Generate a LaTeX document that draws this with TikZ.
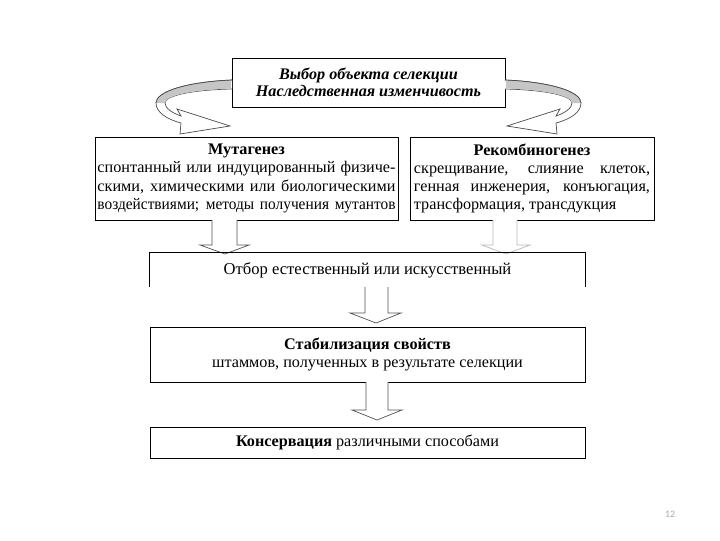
\documentclass[tikz,border=0pt]{standalone}
\usepackage{fontspec}
\setmainfont{Liberation Serif}
\newfontfamily\pagefont{Carlito}
\usepackage{xcolor}
\usetikzlibrary{arrows.meta}

\tikzset{
  box/.style={draw=black, line width=0.6pt, fill=white, inner sep=0pt},
  boxtext/.style={font=\fontsize{11.5}{13}\selectfont},
  hollow/.style={draw=gray!65!black, line width=0.5pt, fill=white, line join=miter},
  ribbon/.style={draw=gray!60!black, line width=0.5pt, fill=white},
}

\begin{document}
\begin{tikzpicture}[x=0.025cm, y=-0.025cm]
  \useasboundingbox (0,0) rectangle (720,540);
  % ============= top box and curved arrows =============
  \node[box, minimum width=6.825cm, minimum height=1.225cm,
        align=center, font=\fontsize{11.5}{12.5}\selectfont\bfseries\itshape]
    (choice) at (368.5,82.5) {Выбор объекта селекции\\Наследственная изменчивость};
  % left ribbon arrow
  \draw[ribbon]
    (232,80) .. controls (185,82) and (156,92) .. (156,103)
             .. controls (156,112) and (166,119) .. (181,123)
    -- (180,134) -- (230,126) -- (177,109) -- (181,116)
             .. controls (172,113) and (165,108) .. (165,103)
             .. controls (165,96) and (190,90) .. (232,89);
  \fill[gray!45] (231,80.5) .. controls (185,82.5) and (156.5,92) .. (156.5,103)
    -- (165,103) .. controls (165,96) and (190,90) .. (231,88.5) -- cycle;
  \draw[gray!60!black, line width=0.5pt]
    (232,80) .. controls (185,82) and (156,92) .. (156,103);
  % right ribbon arrow (mirror of the left one)
  \begin{scope}[shift={(737,0)}, xscale=-1]
    \draw[ribbon]
      (232,80) .. controls (185,82) and (156,92) .. (156,103)
               .. controls (156,112) and (166,119) .. (181,123)
      -- (180,134) -- (230,126) -- (177,109) -- (181,116)
               .. controls (172,113) and (165,108) .. (165,103)
               .. controls (165,96) and (190,90) .. (232,89);
    \fill[gray!45] (231,80.5) .. controls (185,82.5) and (156.5,92) .. (156.5,103)
      -- (165,103) .. controls (165,96) and (190,90) .. (231,88.5) -- cycle;
    \draw[gray!60!black, line width=0.5pt]
      (232,80) .. controls (185,82) and (156,92) .. (156,103);
  \end{scope}
  % ============= two methods =============
  \node[box, boxtext, minimum width=7.575cm, minimum height=2.075cm,
        text width=7.45cm, align=justify]
    (mut) at (246.5,178.5)
    {{\centering\bfseries Мутагенез\par}
     спонтанный или индуцированный физиче-\linebreak
     скими, химическими или биологическими\linebreak
     \makebox[\linewidth][s]{\addfontfeature{FakeStretch=0.95}воздействиями; методы получения мутантов}};
  \node[box, boxtext, minimum width=6.1cm, minimum height=2.075cm,
        text width=5.9cm, align=justify]
    (rec) at (532,178.5)
    {{\centering\bfseries Рекомбиногенез\par}
     скрещивание, слияние клеток,\linebreak
     генная инженерия, конъюгация,\linebreak
     трансформация, трансдукция\hfill\null};
  % block arrows into selection
  \draw[hollow] (212,220) -- (212,245) -- (200,245) -- (225,254)
    -- (249,245) -- (237,245) -- (237,220);
  \draw[hollow, draw=gray!55] (493,220) -- (493,245) -- (482,245) -- (506,254)
    -- (530,245) -- (517,245) -- (517,220);
  % ============= selection (open bottom) =============
  \node[boxtext, font=\fontsize{11.8}{13}\selectfont, minimum width=10.875cm,
        minimum height=0.85cm, inner sep=0pt]
    (sel) at (367.5,270) {Отбор естественный или искусственный};
  \draw[black, line width=0.6pt]
    (sel.south west) -- (sel.north west) -- (sel.north east) -- (sel.south east);
  \draw[hollow] (365,287) -- (365,313) -- (350,313) -- (376,323)
    -- (401,313) -- (388,313) -- (388,287);
  % ============= stabilisation =============
  \node[box, boxtext, minimum width=10.875cm, minimum height=1.375cm,
        align=center]
    (stab) at (367.5,354.5)
    {\textbf{Стабилизация свойств}\\штаммов, полученных в результате селекции};
  \draw[hollow] (366,382) -- (366,410) -- (352,410) -- (377,420)
    -- (402,410) -- (388,410) -- (388,382);
  % ============= conservation =============
  \node[box, boxtext, minimum width=10.875cm, minimum height=0.775cm]
    (cons) at (367.5,442.5) {\textbf{Консервация} различными способами};
  % page number
  \node[font=\pagefont\fontsize{7}{8}\selectfont, text=gray!70] (pagenum)
    at (670,514) {12};
\end{tikzpicture}
\end{document}
